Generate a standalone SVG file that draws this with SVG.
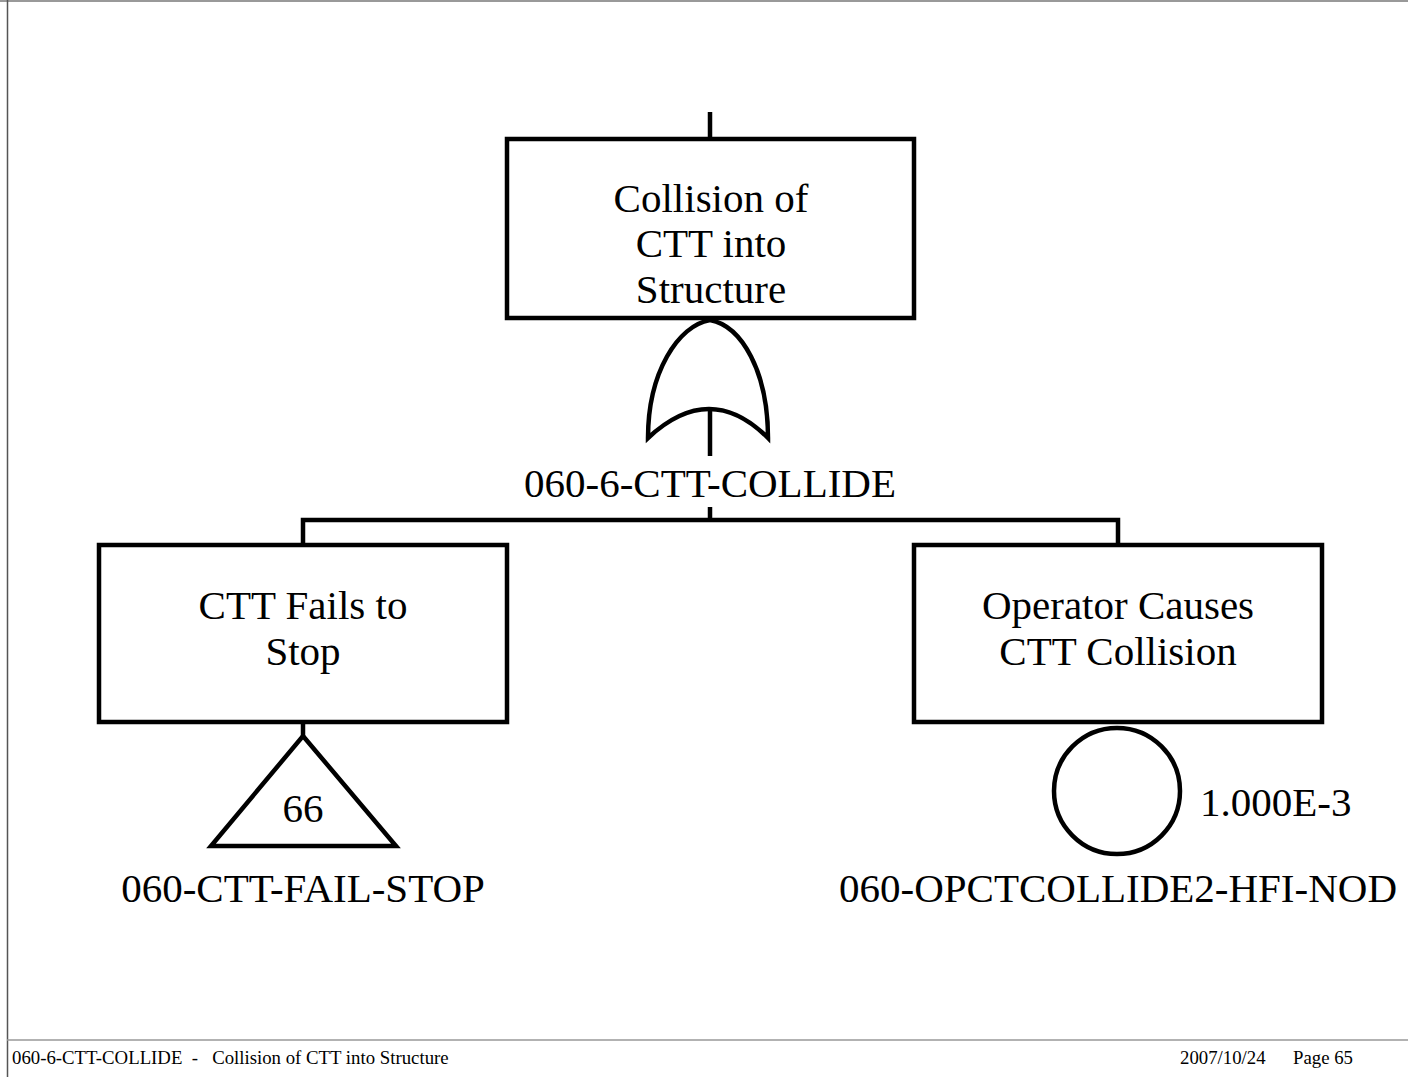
<svg xmlns="http://www.w3.org/2000/svg" width="1408" height="1077" viewBox="0 0 1408 1077">
<style>
.b{fill:#fff;stroke:#000;stroke-width:4.5}
.g{fill:none;stroke:#000;stroke-width:4.5}
.t{font-family:"Liberation Serif","Times New Roman",serif;font-size:41px;fill:#000;text-anchor:middle}
.f{font-family:"Liberation Serif","Times New Roman",serif;font-size:18.8px;fill:#000}
</style>
<rect width="1408" height="1077" fill="#fff"/>
<g id="frame">
<line x1="0" y1="1" x2="1408" y2="1" stroke="#999" stroke-width="2"/>
<line x1="7.5" y1="0" x2="7.5" y2="1077" stroke="#555" stroke-width="1.5"/>
<line x1="7" y1="1040" x2="1408" y2="1040" stroke="#999" stroke-width="1.5"/>
<text class="f" x="12" y="1064" xml:space="preserve">060-6-CTT-COLLIDE  -   Collision of CTT into Structure</text>
<text class="f" x="1180" y="1064">2007/10/24</text>
<text class="f" x="1293" y="1064">Page 65</text>
</g>
<g id="connectors">
<line class="g" x1="710" y1="112" x2="710" y2="139"/>
<line class="g" x1="710" y1="408" x2="710" y2="456"/>
<line class="g" x1="710" y1="507" x2="710" y2="520"/>
<polyline class="g" points="303,545 303,520 1118,520 1118,545"/>
<line class="g" x1="303" y1="722" x2="303" y2="736"/>
</g>
<g id="top">
<rect class="b" x="507" y="139" width="407" height="179"/>
<text class="t" x="711" y="212">Collision of</text>
<text class="t" x="711" y="257">CTT into</text>
<text class="t" x="711" y="303">Structure</text>
</g>
<g id="orgate">
<path class="g" d="M648,438 C648,372 678,326 710,320 C742,326 768,372 768,438 Q710,380 648,438 Z"/>
<text class="t" x="710" y="497">060-6-CTT-COLLIDE</text>
</g>
<g id="left">
<rect class="b" x="99" y="545" width="408" height="177"/>
<text class="t" x="303" y="619">CTT Fails to</text>
<text class="t" x="303" y="665">Stop</text>
</g>
<g id="right">
<rect class="b" x="914" y="545" width="408" height="177"/>
<text class="t" x="1118" y="619">Operator Causes</text>
<text class="t" x="1118" y="665">CTT Collision</text>
</g>
<g id="transfer">
<polygon class="g" points="303,736 396,846 211,846"/>
<text class="t" x="303" y="822">66</text>
<text class="t" x="303" y="902">060-CTT-FAIL-STOP</text>
</g>
<g id="basic">
<circle class="g" cx="1117" cy="791" r="63"/>
<text class="t" x="1200" y="816" style="text-anchor:start">1.000E-3</text>
<text class="t" x="1118" y="902">060-OPCTCOLLIDE2-HFI-NOD</text>
</g>
</svg>
